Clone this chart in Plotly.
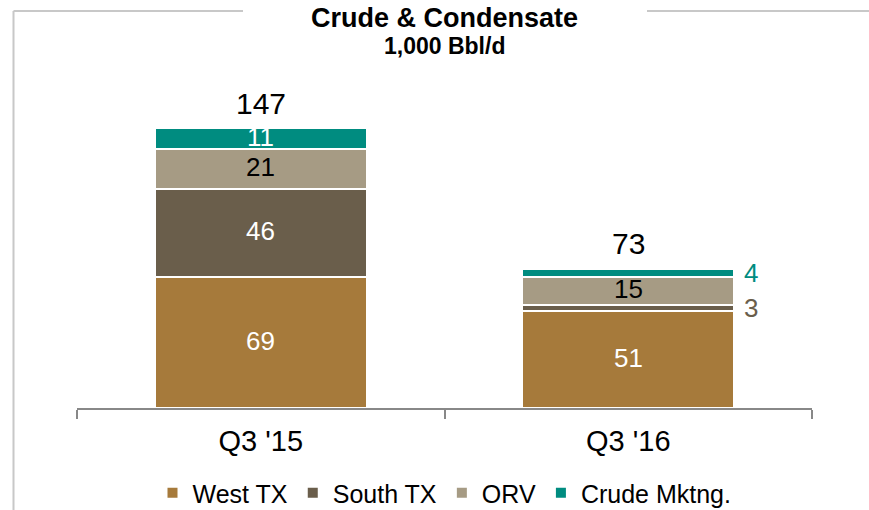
import plotly.graph_objects as go

# Crude & condensate volumes by region (1,000 Bbl/d)
quarters = ["Q3 '15", "Q3 '16"]
west_tx = [69, 51]
south_tx = [46, 3]
orv = [21, 15]
crude_mktng = [11, 4]
totals = [147, 73]

series_names = ["West TX", "South TX", "ORV", "Crude Mktng."]
series_values = [west_tx, south_tx, orv, crude_mktng]
series_colors = ["#A67A3B", "#6A5E4B", "#A69B84", "#008C80"]
label_colors = ["white", "white", "black", "white"]

FONT = "Liberation Sans, Arial, sans-serif"
W, H = 869, 510
L, R, T, B = 77, 57, 128, 102
plot_w, plot_h = W - L - R, H - T - B
y_max = max(totals)
px_per_unit = plot_h / y_max
bar_width = 0.578


def px_to_paper_x(px):
    return (px - L) / plot_w


def px_to_paper_y(py):
    return (H - B - py) / plot_h


fig = go.Figure()
for name, vals, col in zip(series_names, series_values, series_colors):
    fig.add_trace(go.Bar(
        x=quarters, y=vals, name=name, width=bar_width,
        marker=dict(color=col, line=dict(color="white", width=2)),
        hoverinfo="skip",
    ))

annotations = []
# segment value labels
for i, q in enumerate(quarters):
    base = 0
    for name, vals, col, lc in zip(series_names, series_values, series_colors, label_colors):
        v = vals[i]
        mid = base + v / 2
        if v * px_per_unit >= 18:
            annotations.append(dict(
                x=i, y=mid, xref="x", yref="y", text=str(v), showarrow=False,
                yshift=1.5,
                font=dict(family=FONT, size=26, color=lc),
                xanchor="center", yanchor="middle",
            ))
        else:
            # thin segment: label beside the bar
            annotations.append(dict(
                x=i + bar_width / 2, y=mid, xref="x", yref="y", text=str(v),
                showarrow=False, xshift=8,
                font=dict(family=FONT, size=26, color=col),
                xanchor="left", yanchor="middle",
            ))
        base += v
    # total above the stack
    annotations.append(dict(
        x=i, y=totals[i], xref="x", yref="y", text=str(totals[i]),
        showarrow=False, yshift=25,
        font=dict(family=FONT, size=30, color="black"),
        xanchor="center", yanchor="middle",
    ))

# title and unit
annotations.append(dict(
    x=0.5, y=px_to_paper_y(0.5), xref="paper", yref="paper",
    text="<b>Crude & Condensate</b>", showarrow=False,
    font=dict(family=FONT, size=27, color="black"),
    xanchor="center", yanchor="top",
))
annotations.append(dict(
    x=0.5, y=px_to_paper_y(31), xref="paper", yref="paper",
    text="<b>1,000 Bbl/d</b>", showarrow=False,
    font=dict(family=FONT, size=23, color="black"),
    xanchor="center", yanchor="top",
))

# frame lines around the panel
frame_col = "#C8C8C8"
fx0 = px_to_paper_x(13.5)
fy_top = px_to_paper_y(11)
shapes = [
    dict(type="line", xref="paper", yref="paper", x0=fx0, x1=fx0,
         y0=fy_top, y1=px_to_paper_y(H), line=dict(color=frame_col, width=2)),
    dict(type="line", xref="paper", yref="paper", x0=fx0, x1=px_to_paper_x(243),
         y0=fy_top, y1=fy_top, line=dict(color=frame_col, width=2)),
    dict(type="line", xref="paper", yref="paper", x0=px_to_paper_x(647),
         x1=px_to_paper_x(W), y0=fy_top, y1=fy_top, line=dict(color=frame_col, width=2)),
]

fig.update_layout(
    width=W, height=H,
    margin=dict(l=L, r=R, t=T, b=B, autoexpand=False),
    barmode="stack",
    paper_bgcolor="white", plot_bgcolor="white",
    font=dict(family=FONT, color="black"),
    annotations=annotations,
    shapes=shapes,
    showlegend=True,
    legend=dict(
        orientation="h", x=0.5, xanchor="center",
        y=px_to_paper_y(493), yanchor="middle",
        traceorder="normal", font=dict(family=FONT, size=25, color="black"),
        itemclick=False, itemdoubleclick=False,
    ),
    xaxis=dict(
        type="category", range=[-0.5, 1.5], showline=True, linecolor="#888888",
        linewidth=2, ticks="outside", tickson="boundaries", ticklen=9,
        tickwidth=2, tickcolor="#888888", showgrid=False, zeroline=False,
        ticklabelstandoff=6,
        tickfont=dict(family=FONT, size=29, color="black"),
    ),
    yaxis=dict(range=[0, y_max], visible=False, showgrid=False, zeroline=False),
)

fig.write_html("out.html")
